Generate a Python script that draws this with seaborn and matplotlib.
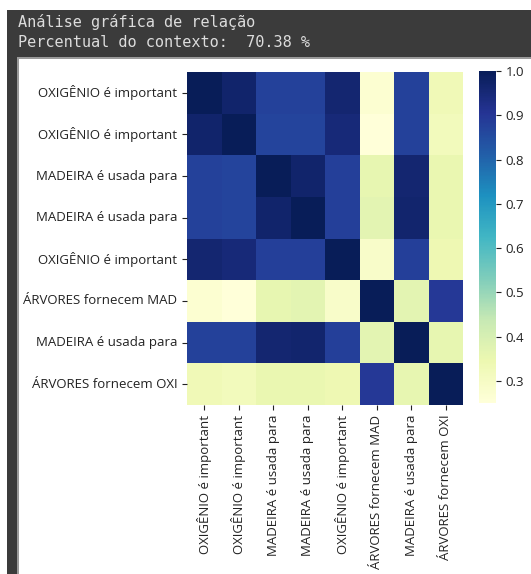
import numpy as np
import pandas as pd
import matplotlib
matplotlib.use("Agg")
import matplotlib.pyplot as plt
import seaborn as sns
from matplotlib.patches import Rectangle

labels = [
    "OXIGÊNIO é important",
    "OXIGÊNIO é important",
    "MADEIRA é usada para",
    "MADEIRA é usada para",
    "OXIGÊNIO é important",
    "ÁRVORES fornecem MAD",
    "MADEIRA é usada para",
    "ÁRVORES fornecem OXI",
]

row0 = [1.00, 0.97, 0.875, 0.875, 0.96, 0.27, 0.875, 0.33]
row1 = [0.97, 1.00, 0.87, 0.87, 0.95, 0.25, 0.875, 0.32]
row2 = [0.875, 0.87, 1.00, 0.97, 0.88, 0.36, 0.96, 0.35]
row3 = [0.875, 0.87, 0.97, 1.00, 0.88, 0.37, 0.965, 0.35]
row4 = [0.96, 0.95, 0.88, 0.88, 1.00, 0.29, 0.88, 0.34]
row5 = [0.27, 0.25, 0.36, 0.37, 0.29, 1.00, 0.37, 0.895]
row6 = [0.875, 0.875, 0.96, 0.965, 0.88, 0.37, 1.00, 0.36]
row7 = [0.33, 0.32, 0.35, 0.35, 0.34, 0.895, 0.36, 1.00]

title_line1 = "Análise gráfica de relação"
title_line2 = "Percentual do contexto:  70.38 %"

matrix = np.array([row0, row1, row2, row3, row4, row5, row6, row7])
df = pd.DataFrame(matrix, index=range(8), columns=range(8))

W, H = 531, 574
fig = plt.figure(figsize=(W / 100, H / 100), dpi=100)
fig.patch.set_facecolor("white")

dark = "#3b3b3b"
fig.add_artist(Rectangle((7 / W, 1 - 57 / H), 1 - 7 / W, 47 / H,
                         transform=fig.transFigure, facecolor=dark, edgecolor="none", zorder=0))
fig.add_artist(Rectangle((17 / W, 1 - 58.5 / H), 1 - 17 / W, 1.5 / H,
                         transform=fig.transFigure, facecolor="#9a9a9a", edgecolor="none", zorder=0))
fig.add_artist(Rectangle((7 / W, 0), 10 / W, 1 - 10 / H,
                         transform=fig.transFigure, facecolor=dark, edgecolor="none", zorder=0))
fig.add_artist(Rectangle((17 / W, 0), 1.5 / W, 1 - 58 / H,
                         transform=fig.transFigure, facecolor="#9a9a9a", edgecolor="none", zorder=0))

fig.text(18 / W, 1 - 27 / H, title_line1, color="#dcdcdc", fontsize=11,
         family="DejaVu Sans Mono", va="baseline", ha="left")
fig.text(18 / W, 1 - 47 / H, title_line2, color="#dcdcdc", fontsize=11,
         family="DejaVu Sans Mono", va="baseline", ha="left")

ax = fig.add_axes([187 / W, 1 - 405 / H, 276 / W, 333 / H])
cax = fig.add_axes([479 / W, 1 - 403 / H, 17 / W, 332 / H])

sns.heatmap(df, ax=ax, cbar_ax=cax, cmap="YlGnBu",
            xticklabels=labels, yticklabels=labels)

for t in ax.get_xticklabels() + ax.get_yticklabels():
    t.set_family("Open Sans")
ax.tick_params(axis="both", labelsize=9.5, colors="#222222", length=3.5)
plt.setp(ax.get_xticklabels(), rotation=90)
plt.setp(ax.get_yticklabels(), rotation=0)
cax.set_yticks([0.3, 0.4, 0.5, 0.6, 0.7, 0.8, 0.9, 1.0])
cax.tick_params(labelsize=9.5, colors="#222222", length=3.5)
for t in cax.get_yticklabels():
    t.set_family("Open Sans")

fig.savefig("out.png", dpi=100)
